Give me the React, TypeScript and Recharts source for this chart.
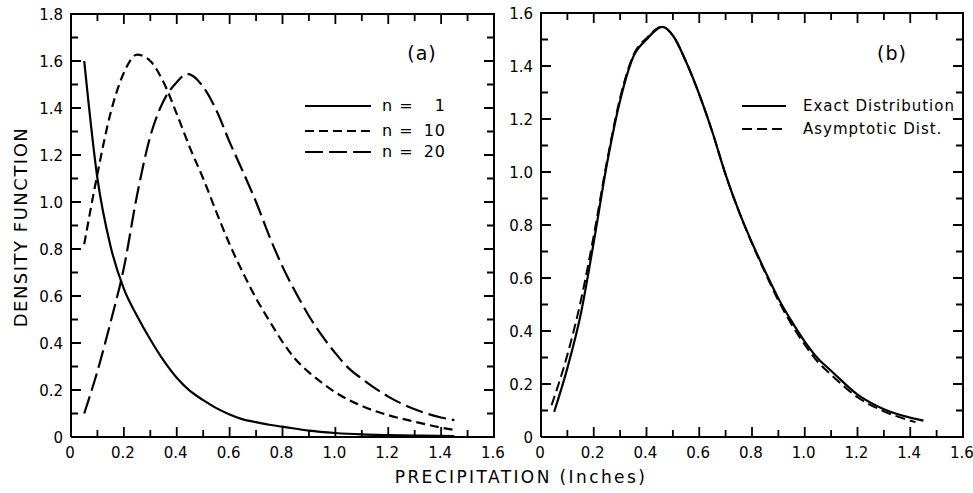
import React from 'react';
import { LineChart, Line, XAxis, YAxis, Legend } from 'recharts';

const FONT = '"DejaVu Sans", "Noto Sans", sans-serif';

// ---- tick values ----
const xTicks = [0, 0.1, 0.2, 0.3, 0.4, 0.5, 0.6, 0.7, 0.8, 0.9, 1.0, 1.1, 1.2, 1.3, 1.4, 1.5, 1.6];
const yTicksA = [0, 0.1, 0.2, 0.3, 0.4, 0.5, 0.6, 0.7, 0.8, 0.9, 1.0, 1.1, 1.2, 1.3, 1.4, 1.5, 1.6, 1.7, 1.8];
const yTicksB = [0, 0.1, 0.2, 0.3, 0.4, 0.5, 0.6, 0.7, 0.8, 0.9, 1.0, 1.1, 1.2, 1.3, 1.4, 1.5, 1.6];

// ---- panel (a) series ----
const n1X = [0.05, 0.1, 0.15, 0.2, 0.25, 0.3, 0.35, 0.4, 0.45, 0.5, 0.55, 0.6, 0.65, 0.7, 0.75, 0.8, 0.9, 1.0, 1.1, 1.2, 1.3, 1.45];
const n1Y = [1.6, 1.1, 0.81, 0.63, 0.515, 0.415, 0.326, 0.252, 0.196, 0.157, 0.123, 0.096, 0.075, 0.063, 0.052, 0.044, 0.027, 0.017, 0.011, 0.008, 0.006, 0.004];

const n10X = [0.05, 0.1, 0.15, 0.2, 0.25, 0.3, 0.35, 0.4, 0.45, 0.5, 0.55, 0.6, 0.65, 0.7, 0.75, 0.8, 0.85, 0.9, 0.95, 1.0, 1.1, 1.2, 1.3, 1.4, 1.45];
const n10Y = [0.82, 1.12, 1.38, 1.55, 1.627, 1.6, 1.51, 1.375, 1.23, 1.1, 0.957, 0.82, 0.7, 0.59, 0.495, 0.405, 0.33, 0.275, 0.23, 0.19, 0.132, 0.093, 0.065, 0.04, 0.03];

const n20X = [0.05, 0.1, 0.15, 0.2, 0.25, 0.3, 0.35, 0.4, 0.44, 0.5, 0.55, 0.6, 0.65, 0.7, 0.75, 0.8, 0.85, 0.9, 0.95, 1.0, 1.05, 1.1, 1.2, 1.3, 1.4, 1.45];
const n20Y = [0.1, 0.28, 0.49, 0.72, 1.03, 1.28, 1.43, 1.51, 1.545, 1.49, 1.39, 1.255, 1.13, 1.0, 0.855, 0.725, 0.615, 0.515, 0.43, 0.357, 0.293, 0.248, 0.172, 0.118, 0.083, 0.072];

// ---- panel (b) series ----
const exactX = [0.05, 0.1, 0.15, 0.2, 0.25, 0.3, 0.35, 0.4, 0.46, 0.5, 0.55, 0.6, 0.65, 0.7, 0.75, 0.8, 0.85, 0.9, 0.95, 1.0, 1.05, 1.1, 1.2, 1.3, 1.45];
const exactY = [0.095, 0.26, 0.46, 0.735, 1.03, 1.27, 1.435, 1.5, 1.548, 1.515, 1.416, 1.293, 1.15, 0.99, 0.852, 0.733, 0.625, 0.523, 0.437, 0.36, 0.296, 0.25, 0.16, 0.105, 0.062];

const asymX = [0.04, 0.1, 0.15, 0.2, 0.25, 0.3, 0.35, 0.4, 0.46, 0.5, 0.55, 0.6, 0.65, 0.7, 0.75, 0.8, 0.85, 0.9, 0.95, 1.0, 1.05, 1.1, 1.2, 1.3, 1.42];
const asymY = [0.12, 0.31, 0.51, 0.76, 1.04, 1.28, 1.44, 1.505, 1.548, 1.515, 1.416, 1.293, 1.15, 0.99, 0.852, 0.73, 0.62, 0.515, 0.425, 0.348, 0.283, 0.235, 0.15, 0.097, 0.056];

// ---- legend labels ----
const legendA = [
  { label: 'n =', num: '1', dash: 0, gap: 0 },
  { label: 'n =', num: '10', dash: 9, gap: 5 },
  { label: 'n =', num: '20', dash: 18, gap: 6 },
];
const legendB = [
  { label: 'Exact Distribution', dash: 0, gap: 0 },
  { label: 'Asymptotic Dist.', dash: 10, gap: 5 },
];

const X_MAX = 1.6;
const MAJOR_FRAC = 10 / 423;
const MINOR_FRAC = 7 / 423;

const zip = (xs: number[], ys: number[]) => xs.map((x, i) => ({ x, y: ys[i] }));

const n1Data = zip(n1X, n1Y);
const n10Data = zip(n10X, n10Y);
const n20Data = zip(n20X, n20Y);
const exactData = zip(exactX, exactY);
const asymData = zip(asymX, asymY);

const fmt = (v: number) => {
  const r = Math.round(v * 10);
  return r === 0 ? '0' : (r / 10).toFixed(1);
};
const isMajor = (v: number) => Math.round(v * 10) % 2 === 0;

// frame and inward tick marks, built from the tick arrays and domains
const frameData = (yMax: number) => [
  { x: 0, y: 0 },
  { x: X_MAX, y: 0 },
  { x: X_MAX, y: yMax },
  { x: 0, y: yMax },
  { x: 0, y: 0 },
];
const xTickMarks = (yMax: number, top: boolean) => {
  const out: { x: number; y: number | null }[] = [];
  xTicks.forEach((v) => {
    const len = (isMajor(v) ? MAJOR_FRAC : MINOR_FRAC) * yMax;
    const y0 = top ? yMax : 0;
    const y1 = top ? yMax - len : len;
    out.push({ x: v, y: y0 }, { x: v, y: y1 }, { x: v, y: null });
  });
  return out;
};
const yTickMarks = (ticks: number[], right: boolean) => {
  const out: { x: number; y: number | null }[] = [];
  ticks.forEach((v) => {
    const len = (isMajor(v) ? MAJOR_FRAC : MINOR_FRAC) * X_MAX;
    const x0 = right ? X_MAX : 0;
    const x1 = right ? X_MAX - len : len;
    out.push({ x: x0, y: v }, { x: x1, y: v }, { x: x1, y: null });
  });
  return out;
};

const labelTick = (side: string) => (props: any) => {
  const x = Number(props.x);
  const y = Number(props.y);
  const v = Number(props.payload.value);
  if (!isMajor(v) || side === 'top' || side === 'right') return <g />;
  return (
    <g>
      <text
        x={side === 'bottom' ? x - 1 : x - 8}
        y={side === 'bottom' ? y + 21 : y + 5.5}
        textAnchor={side === 'bottom' ? 'middle' : 'end'}
        fontSize={15}
        fontFamily={FONT}
        fill="#000"
      >
        {fmt(v)}
      </text>
    </g>
  );
};

const sample = (dash: number, gap: number, w: number) => ({
  width: w,
  height: 2,
  background: dash
    ? `repeating-linear-gradient(90deg, #000 0px, #000 ${dash}px, transparent ${dash}px, transparent ${dash + gap}px)`
    : '#000',
});

const LegendBoxA = () => (
  <div style={{ position: 'relative', width: 170, height: 72, fontFamily: FONT, fontSize: 16, letterSpacing: 1, color: '#000' }}>
    {legendA.map((it, i) => {
      const yy = [12, 37, 58][i];
      return (
        <React.Fragment key={i}>
          <div style={{ position: 'absolute', left: 5, top: yy - 1, ...sample(it.dash, it.gap, 66) }} />
          <div style={{ position: 'absolute', left: 82, top: yy - 10, lineHeight: '20px' }}>{it.label}</div>
          <div style={{ position: 'absolute', left: 110, width: 36, top: yy - 10, lineHeight: '20px', textAlign: 'right' }}>{it.num}</div>
        </React.Fragment>
      );
    })}
  </div>
);

const LegendBoxB = () => (
  <div style={{ position: 'relative', width: 230, height: 50, fontFamily: FONT, fontSize: 15, letterSpacing: 1, color: '#000' }}>
    {legendB.map((it, i) => {
      const yy = [12, 35][i];
      return (
        <React.Fragment key={i}>
          <div style={{ position: 'absolute', left: 7, top: yy - 1, ...sample(it.dash, it.gap, 44) }} />
          <div style={{ position: 'absolute', left: 68, top: yy - 10, lineHeight: '20px', whiteSpace: 'nowrap' }}>{it.label}</div>
        </React.Fragment>
      );
    })}
  </div>
);

const decoLines = (yMax: number, yTicks: number[]) => [
  <Line key="frame" xAxisId="b" yAxisId="l" data={frameData(yMax)} dataKey="y" type="linear" dot={false} activeDot={false}
    stroke="#000" strokeWidth={2} legendType="none" isAnimationActive={false} />,
  <Line key="tb" xAxisId="b" yAxisId="l" data={xTickMarks(yMax, false)} dataKey="y" type="linear" dot={false} activeDot={false}
    stroke="#000" strokeWidth={1.8} legendType="none" connectNulls={false} isAnimationActive={false} />,
  <Line key="tt" xAxisId="b" yAxisId="l" data={xTickMarks(yMax, true)} dataKey="y" type="linear" dot={false} activeDot={false}
    stroke="#000" strokeWidth={1.8} legendType="none" connectNulls={false} isAnimationActive={false} />,
  <Line key="tl" xAxisId="b" yAxisId="l" data={yTickMarks(yTicks, false)} dataKey="y" type="linear" dot={false} activeDot={false}
    stroke="#000" strokeWidth={1.8} legendType="none" connectNulls={false} isAnimationActive={false} />,
  <Line key="tr" xAxisId="b" yAxisId="l" data={yTickMarks(yTicks, true)} dataKey="y" type="linear" dot={false} activeDot={false}
    stroke="#000" strokeWidth={1.8} legendType="none" connectNulls={false} isAnimationActive={false} />,
];

export default function App() {
  return (
    <div style={{ position: 'absolute', left: 0, top: 0, width: 973, height: 493, background: '#fff' }}>
      <div style={{ position: 'absolute', left: 0, top: 0 }}>
        <LineChart width={520} height={493} margin={{ top: 13, right: 25, bottom: 26, left: 0 }}>
          <XAxis xAxisId="b" orientation="bottom" dataKey="x" type="number" domain={[0, 1.6]} ticks={xTicks} interval={0}
            height={30} tickSize={0} tickMargin={0} tickLine={false} axisLine={false} tick={labelTick('bottom')} />
          <XAxis xAxisId="t" orientation="top" dataKey="x" type="number" domain={[0, 1.6]} ticks={xTicks} interval={0}
            height={1} tickSize={0} tickMargin={0} tickLine={false} axisLine={false} tick={labelTick('top')} />
          <YAxis yAxisId="l" orientation="left" type="number" domain={[0, 1.8]} ticks={yTicksA} interval={0}
            width={71} tickSize={0} tickMargin={0} tickLine={false} axisLine={false} tick={labelTick('left')} />
          <YAxis yAxisId="r" orientation="right" type="number" domain={[0, 1.8]} ticks={yTicksA} interval={0}
            width={1} tickSize={0} tickMargin={0} tickLine={false} axisLine={false} tick={labelTick('right')} />
          {decoLines(1.8, yTicksA)}
          <Line xAxisId="b" yAxisId="l" data={n1Data} dataKey="y" name="n = 1" type="monotone" dot={false}
            stroke="#000" strokeWidth={2.2} isAnimationActive={false} />
          <Line xAxisId="b" yAxisId="l" data={n10Data} dataKey="y" name="n = 10" type="monotone" dot={false}
            stroke="#000" strokeWidth={2.2} strokeDasharray="9 5" isAnimationActive={false} />
          <Line xAxisId="b" yAxisId="l" data={n20Data} dataKey="y" name="n = 20" type="monotone" dot={false}
            stroke="#000" strokeWidth={2.2} strokeDasharray="18 6" isAnimationActive={false} />
          <Legend layout="horizontal" verticalAlign="middle" align="center"
            wrapperStyle={{ left: 300, top: 94, width: 170, height: 72 }} content={() => <LegendBoxA />} />
        </LineChart>
      </div>
      <div style={{ position: 'absolute', left: 490, top: 0 }}>
        <LineChart width={483} height={493} margin={{ top: 12, right: 9, bottom: 26, left: 0 }}>
          <XAxis xAxisId="b" orientation="bottom" dataKey="x" type="number" domain={[0, 1.6]} ticks={xTicks} interval={0}
            height={30} tickSize={0} tickMargin={0} tickLine={false} axisLine={false} tick={labelTick('bottom')} />
          <XAxis xAxisId="t" orientation="top" dataKey="x" type="number" domain={[0, 1.6]} ticks={xTicks} interval={0}
            height={1} tickSize={0} tickMargin={0} tickLine={false} axisLine={false} tick={labelTick('top')} />
          <YAxis yAxisId="l" orientation="left" type="number" domain={[0, 1.6]} ticks={yTicksB} interval={0}
            width={51} tickSize={0} tickMargin={0} tickLine={false} axisLine={false} tick={labelTick('left')} />
          <YAxis yAxisId="r" orientation="right" type="number" domain={[0, 1.6]} ticks={yTicksB} interval={0}
            width={1} tickSize={0} tickMargin={0} tickLine={false} axisLine={false} tick={labelTick('right')} />
          {decoLines(1.6, yTicksB)}
          <Line xAxisId="b" yAxisId="l" data={asymData} dataKey="y" name="Asymptotic Dist." type="monotone" dot={false}
            stroke="#000" strokeWidth={2} strokeDasharray="10 5" isAnimationActive={false} />
          <Line xAxisId="b" yAxisId="l" data={exactData} dataKey="y" name="Exact Distribution" type="monotone" dot={false}
            stroke="#000" strokeWidth={2.2} isAnimationActive={false} />
          <Legend layout="horizontal" verticalAlign="middle" align="center"
            wrapperStyle={{ left: 245, top: 94, width: 230, height: 50 }} content={() => <LegendBoxB />} />
        </LineChart>
      </div>
      <svg width={973} height={493} style={{ position: 'absolute', left: 0, top: 0, pointerEvents: 'none' }}>
        <text x={20} y={227} transform="rotate(-90 20 227)" textAnchor="middle" dominantBaseline="central"
          fontSize={18} letterSpacing={1.5} fontFamily={FONT} fill="#000">DENSITY FUNCTION</text>
        <text x={521} y={477} textAnchor="middle" dominantBaseline="central"
          fontSize={17} letterSpacing={2.4} fontFamily={FONT} fill="#000">PRECIPITATION (Inches)</text>
        <text x={422} y={53} textAnchor="middle" dominantBaseline="central" fontSize={19} letterSpacing={1}
          fontFamily={FONT} fill="#000">(a)</text>
        <text x={892} y={53} textAnchor="middle" dominantBaseline="central" fontSize={19} letterSpacing={1}
          fontFamily={FONT} fill="#000">(b)</text>
      </svg>
    </div>
  );
}
